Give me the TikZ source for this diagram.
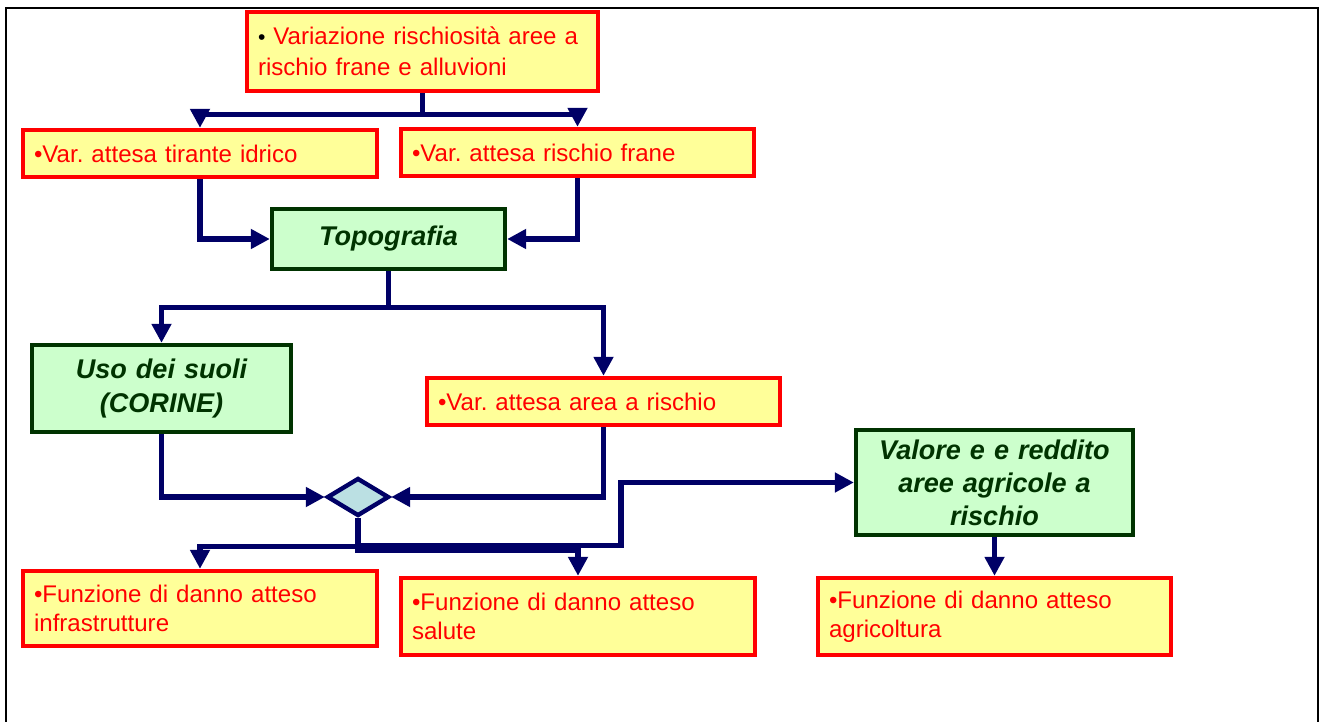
\documentclass[tikz,border=0pt]{standalone}
\usepackage{fontspec}
\setmainfont{Liberation Sans}
\usepackage{xcolor}
\usetikzlibrary{arrows.meta,shapes.geometric}
\definecolor{boxyellow}{HTML}{FFFF99}
\definecolor{boxgreen}{HTML}{CCFFCC}
\definecolor{darkgreen}{HTML}{003300}
\definecolor{navy}{HTML}{000066}
\definecolor{diafill}{HTML}{BBE0E3}
\frenchspacing

\begin{document}
\begin{tikzpicture}[x=0.02cm,y=-0.02cm,
		redbox/.style={draw=red,line width=2.5pt,fill=boxyellow,text=red,align=left,inner xsep=0.22cm,
			font=\fontsize{13.7}{16.5}\selectfont},
		greenbox/.style={draw=darkgreen,line width=2.5pt,fill=boxgreen,text=darkgreen,align=center,inner xsep=0.22cm,
			font=\fontsize{15.4}{18.8}\selectfont\bfseries\itshape},
		link/.style={draw=navy,line width=3pt,-{Triangle[length=0.38cm,width=0.38cm]}}]
			\useasboundingbox (0,0) rectangle (1324,722);
			\draw[line width=1.5pt] (6,722) -- (6,8) -- (1318,8) -- (1318,722);
			\node[redbox,text width=6.58cm,minimum height=1.58cm] (top) at (422.5,51.5)
				{\textcolor{black}{\large•} Variazione rischiosità aree a\\[1pt]rischio frane e alluvioni};
			\node[redbox,text width=6.64cm,minimum height=0.94cm] (tir) at (200,153.5) {•Var. attesa tirante idrico};
			\node[redbox,text width=6.62cm,minimum height=0.94cm] (fra) at (577.5,152.5) {•Var. attesa rischio frane};
			\node[greenbox,text width=4.22cm,minimum height=1.2cm] (topo) at (388.5,239) {Topografia};
			\node[greenbox,text width=4.74cm,minimum height=1.74cm] (uso) at (161.5,388.5) {Uso dei suoli\\(CORINE)};
			\node[redbox,text width=6.62cm,minimum height=0.94cm] (area) at (603.5,401.5) {•Var. attesa area a rischio};
			\node[diamond,draw=navy,line width=2.5pt,fill=diafill,inner sep=0pt,minimum width=1.24cm,minimum height=0.76cm] (dia) at (358,497) {};
			\node[greenbox,text width=5.1cm,minimum height=2.1cm] (val) at (994.5,482.5) {Valore e e reddito\\aree agricole a\\rischio};
			\node[redbox,text width=6.64cm,minimum height=1.5cm] (inf) at (200,608.5) {•Funzione di danno atteso\\infrastrutture};
			\node[redbox,text width=6.64cm,minimum height=1.54cm] (sal) at (578,616.5) {•Funzione di danno atteso\\salute};
			\node[redbox,text width=6.62cm,minimum height=1.54cm] (agr) at (994.5,616.5) {•Funzione di danno atteso\\agricoltura};
			\draw[link] (top.south) -- ++(0,21) -| (tir.north);
			\draw[link] (top.south) -- ++(0,21) -| (fra.north);
			\draw[link] (tir.south) |- (topo.west);
			\draw[link] (fra.south) |- (topo.east);
			\draw[link] (topo.south) -- ++(0,36) -| (uso.north);
			\draw[link] (topo.south) -- ++(0,36) -| (area.north);
			\draw[link] (uso.south) |- (dia.west);
			\draw[link] (area.south) |- (dia.east);
			\draw[link] (dia.south) -- ++(0,28) -| (inf.north);
			\draw[link] (dia.south) -- ++(0,32) -| (sal.north);
			\draw[link] (dia.south) -- ++(0,27) -- ++(263,0) |- (val.west);
			\draw[link] (val.south) -- (agr.north);
		\end{tikzpicture}
\end{document}
